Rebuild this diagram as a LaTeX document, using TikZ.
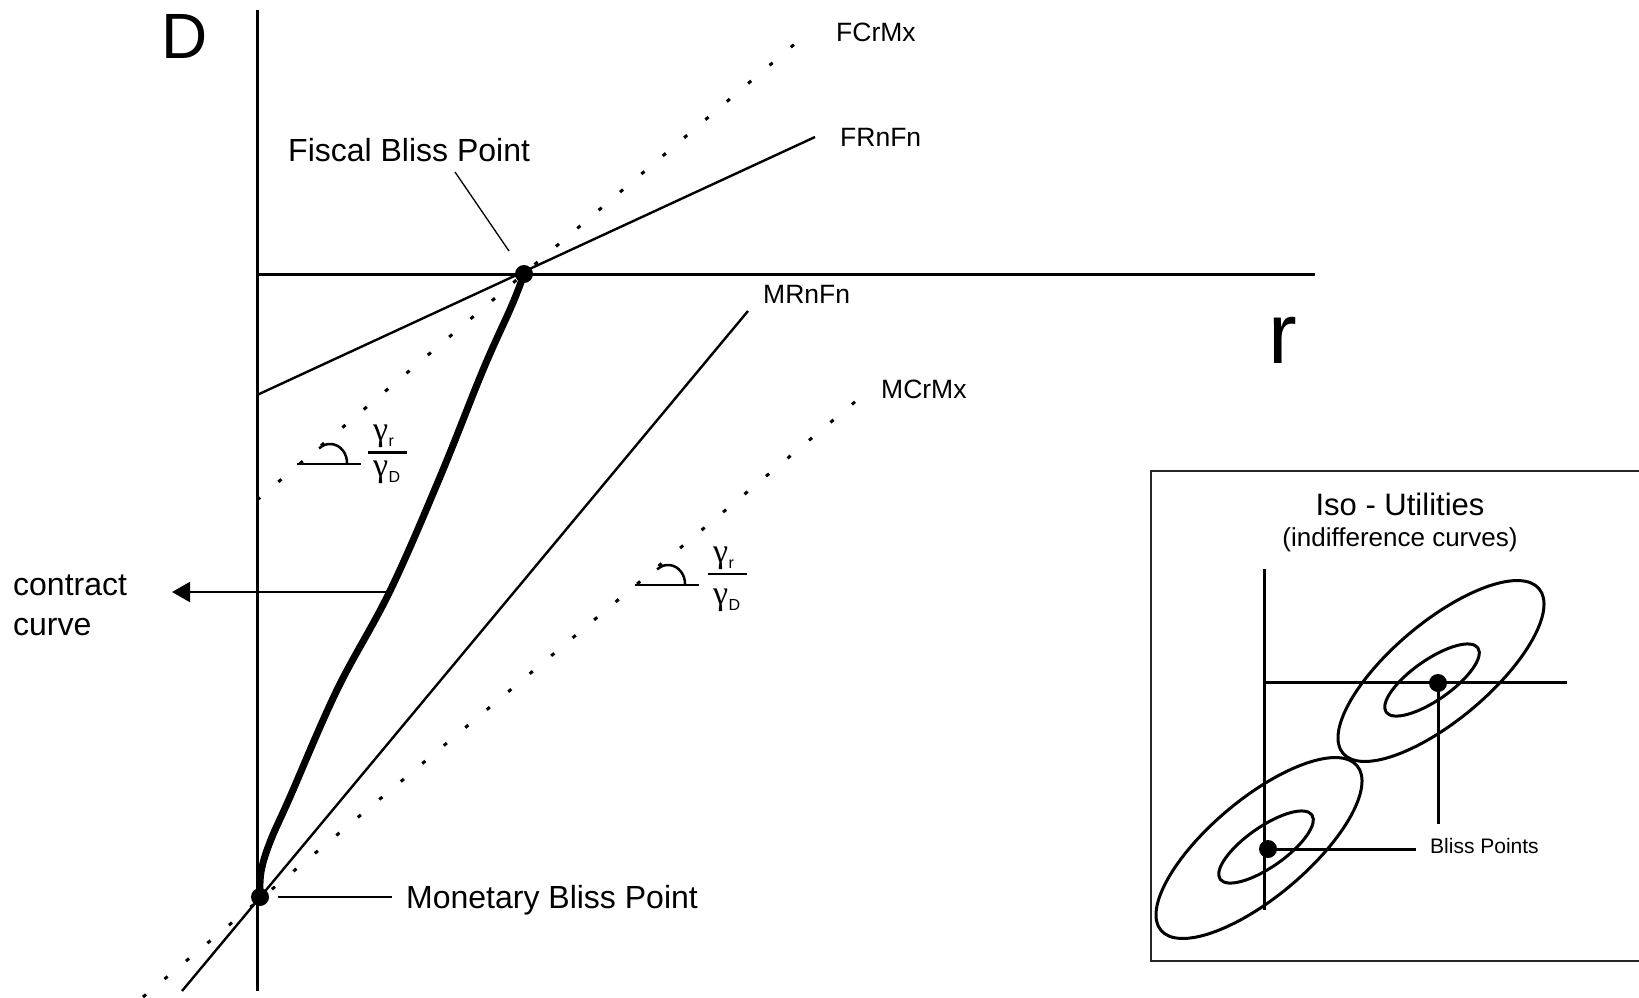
\documentclass[tikz,border=0pt]{standalone}
\usepackage{fontspec}
\setmainfont{Liberation Sans}
\newfontfamily\gfont{Liberation Serif}
\usetikzlibrary{arrows.meta,shapes.geometric}
\newcommand{\gsub}[1]{{\gfont γ}\kern0.5pt\raisebox{-6pt}{\fontsize{16}{16}\selectfont #1}}
\begin{document}
\begin{tikzpicture}[x=1pt,y=-1pt,
  axis/.style={line width=3pt},
  solidline/.style={line width=2.4pt},
  dotline/.style={line width=3pt, dash pattern=on 4pt off 24pt},
  leader/.style={line width=1.3pt},
  inlead/.style={line width=3pt},
  curveline/.style={line width=7pt, line cap=round, line join=round},
  dot/.style={circle, fill=black, inner sep=0pt, minimum size=18pt},
  lab/.style={inner sep=0pt, anchor=base west, font=\fontsize{26.5}{30}\selectfont},
  biglab/.style={inner sep=0pt, anchor=base west, font=\fontsize{32}{36}\selectfont},
  gam/.style={inner sep=0pt, anchor=base west, font=\fontsize{34}{36}\selectfont},
  bar/.style={line width=2.5pt},
  anglemark/.style={line width=2.5pt},
  iso/.style={draw, ellipse, line width=3pt, inner sep=0pt},
]
\useasboundingbox (0,0) rectangle (1639,997);

% axes
\coordinate (Dtop) at (257,10);
\coordinate (Dbot) at (257,991);
\coordinate (O) at (257,274);
\coordinate (rend) at (1315,274);
\draw[axis] (Dtop) -- (Dbot);
\draw[axis] (O) -- (rend);
\node[inner sep=0pt, font=\fontsize{64}{64}\selectfont] (Dlab) at (184.5,36) {D};
\node[inner sep=0pt, font=\fontsize{86}{86}\selectfont] (rlab) at (1283,340) {r};

% bliss points
\node[dot] (F) at (524,274) {};
\node[dot] (M) at (260,897) {};

% lines
\coordinate (frA) at (257,395);
\coordinate (frB) at (815,137);
\draw[solidline] (frA) -- (frB);
\coordinate (fcA) at (257,500);
\coordinate (fcB) at (810,31);
\draw[dotline] (fcA) -- (fcB);
\coordinate (mrA) at (182,991);
\coordinate (mrB) at (748,311);
\draw[solidline] (mrA) -- (mrB);
\coordinate (mcA) at (143,997);
\coordinate (mcB) at (862,396);
\draw[dotline] (mcA) -- (mcB);

% line labels
\node[lab] (fcrmx) at (836,41.5) {FCrMx};
\node[lab] (frnfn) at (840,146.5) {FRnFn};
\node[lab] (mrnfn) at (763,303) {MRnFn};
\node[lab] (mcrmx) at (881,398) {MCrMx};

% bliss point labels
\node[biglab] (fbp) at (288,161) {Fiscal Bliss Point};
\coordinate (fl1) at (455,172);
\coordinate (fl2) at (509,251);
\draw[leader] (fl1) -- (fl2);
\node[biglab] (mbp) at (406,908) {Monetary Bliss Point};
\coordinate (ml1) at (278,897);
\coordinate (ml2) at (392,897);
\draw[leader] (ml1) -- (ml2);

% contract curve
\draw[curveline] plot[smooth, tension=0.6] coordinates {(M.center) (261,872) (270,842) (290,797) (337,690) (390,591) (440,477) (483,370) (512,305) (F.center)};
\coordinate (cc) at (387,592);
\coordinate (ctip) at (172,592);
\draw[line width=2pt, -{Triangle[length=18pt,width=20pt]}] (cc) -- (ctip);
\node[biglab] (ct1) at (13,595) {contract};
\node[biglab] (ct2) at (13,635) {curve};

% slope marks
\coordinate (h1a) at (297,464);
\coordinate (h1b) at (361,464);
\draw[anglemark] (h1a) -- (h1b);
\draw[anglemark] (319.1,448.4) arc[start angle=130, end angle=0, x radius=17pt, y radius=19pt];
\coordinate (b1a) at (368,452.5);
\coordinate (b1b) at (407,452.5);
\draw[bar] (b1a) -- (b1b);
\node[gam] (g1r) at (373,440) {\gsub{r}};
\node[gam] (g1d) at (373,476) {\gsub{D}};

\coordinate (h2a) at (635,585);
\coordinate (h2b) at (699,585);
\draw[anglemark] (657.1,569.4) arc[start angle=130, end angle=0, x radius=17pt, y radius=19pt];
\draw[anglemark] (h2a) -- (h2b);
\coordinate (b2a) at (708,574);
\coordinate (b2b) at (747,574);
\draw[bar] (b2a) -- (b2b);
\node[gam] (g2r) at (713,562) {\gsub{r}};
\node[gam] (g2d) at (713,604) {\gsub{D}};

% inset
\coordinate (bx1) at (1639,471);
\coordinate (bx2) at (1151,471);
\coordinate (bx3) at (1151,961);
\coordinate (bx4) at (1639,961);
\draw[line width=1.4pt, black!85] (bx1) -- (bx2) -- (bx3) -- (bx4);
\node[inner sep=0pt, anchor=base, font=\fontsize{31}{36}\selectfont] (isot) at (1400,515) {Iso - Utilities};
\node[inner sep=0pt, anchor=base, font=\fontsize{26}{30}\selectfont] (isos) at (1400,546) {(indifference curves)};

\coordinate (iv1) at (1264,569);
\coordinate (iv2) at (1264,910);
\coordinate (ih1) at (1264,682);
\coordinate (ih2) at (1567,682);
\draw[inlead] (iv1) -- (iv2);
\draw[inlead] (ih1) -- (ih2);

\node[iso, minimum width=256pt, minimum height=98pt, rotate=40] (bigU) at (1441,671) {};
\node[iso, minimum width=112pt, minimum height=40pt, rotate=35] (smallU) at (1432,680) {};
\node[iso, minimum width=256pt, minimum height=98pt, rotate=40] (bigL) at (1259,848) {};
\node[iso, minimum width=112pt, minimum height=40pt, rotate=35] (smallL) at (1266,847) {};

\node[dot] (BU) at (1438,683) {};
\node[dot] (BL) at (1268,849) {};
\coordinate (bu2) at (1438,824);
\coordinate (bl2) at (1416,849);
\draw[inlead] (BU.center) -- (bu2);
\draw[inlead] (BL.center) -- (bl2);
\node[inner sep=0pt, anchor=base west, font=\fontsize{21}{24}\selectfont] (bpl) at (1430,853) {Bliss Points};
\end{tikzpicture}
\end{document}
